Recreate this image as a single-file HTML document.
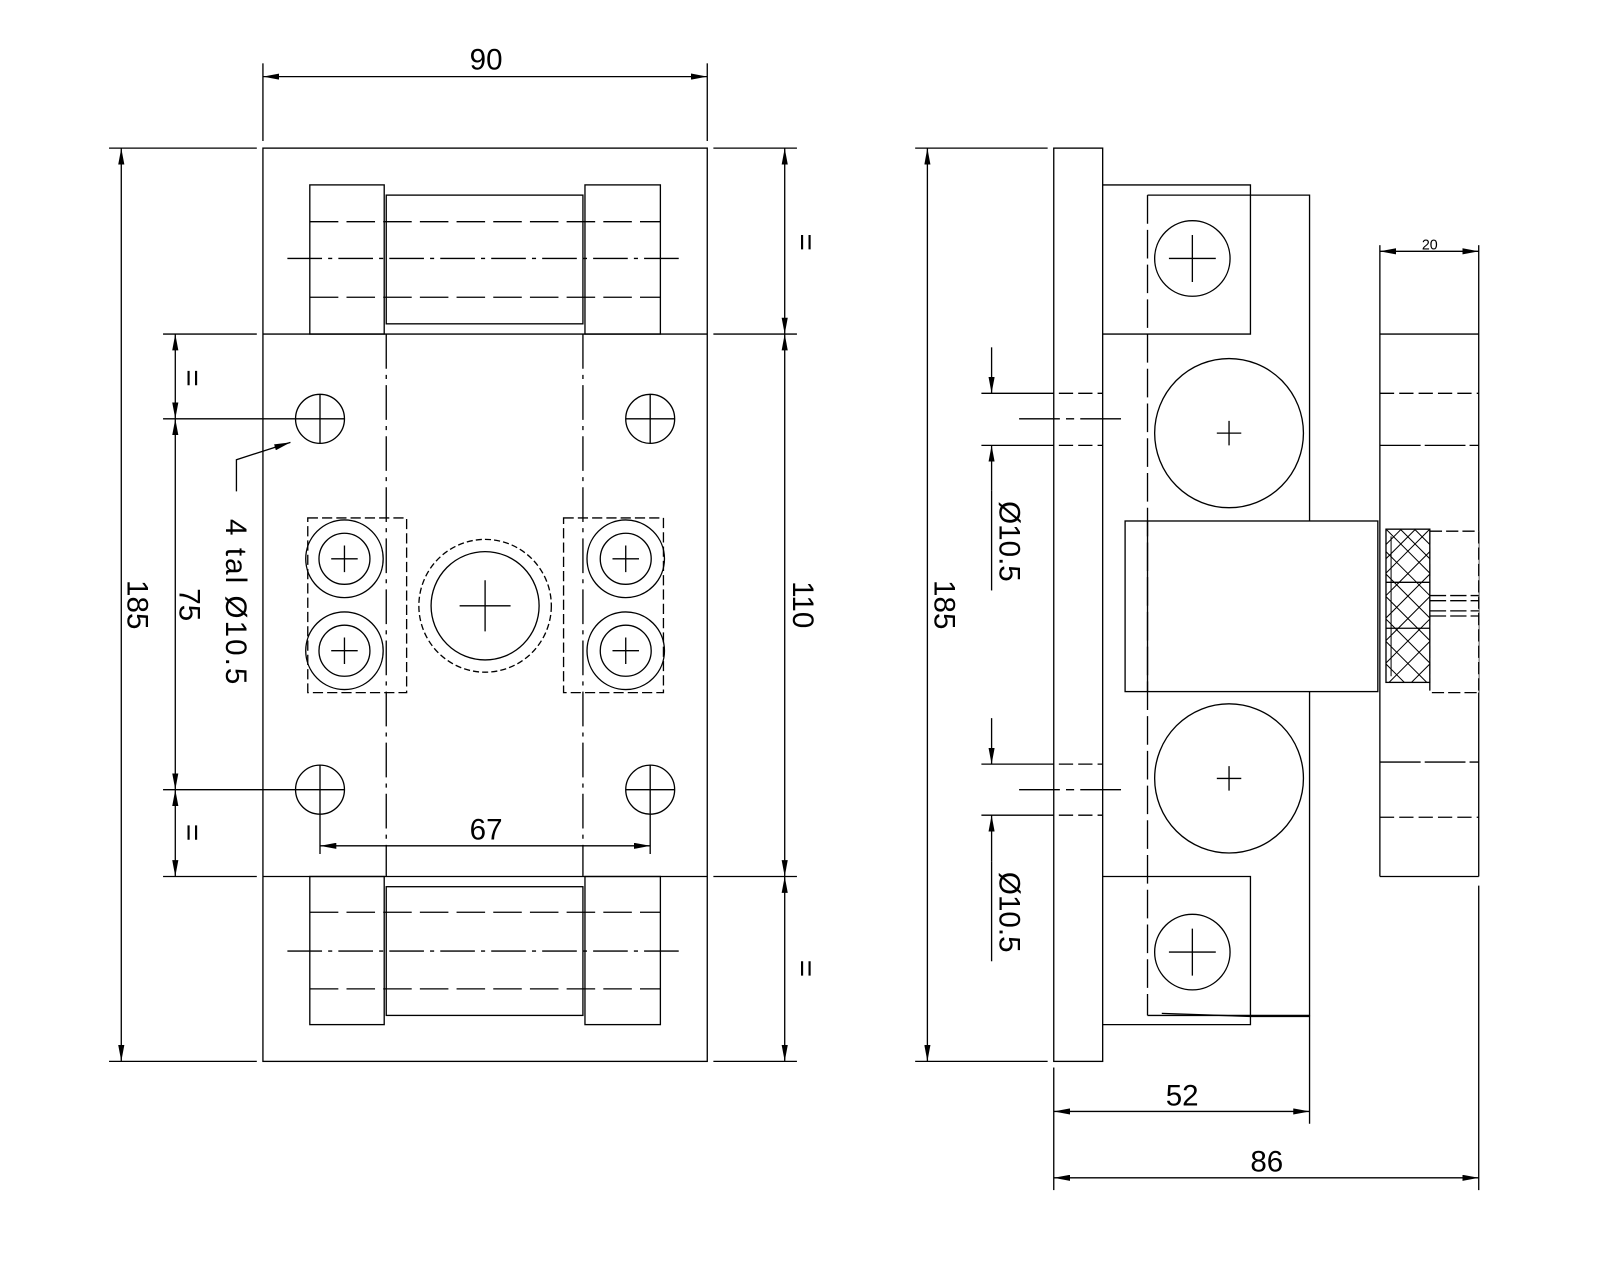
<!DOCTYPE html>
<html><head><meta charset="utf-8"><style>
html,body{margin:0;padding:0;background:#fff;}
svg{display:block;}
text{font-family:"Liberation Sans",sans-serif;font-size:29px;fill:#000;font-weight:normal;}
</style></head><body>
<svg width="1600" height="1280" viewBox="0 0 1570 1253" preserveAspectRatio="none" xmlns="http://www.w3.org/2000/svg">
<defs>
<marker id="a" viewBox="0 0 16 6" refX="16" refY="3" markerWidth="16" markerHeight="6" markerUnits="userSpaceOnUse" orient="auto-start-reverse">
<path d="M0,0 L16,3 L0,6 z" fill="#000"/></marker>
</defs>
<g fill="none" stroke="#000" stroke-width="1.3">
<rect x="258" y="145" width="436" height="894"/>
<line x1="258" y1="327" x2="694" y2="327"/>
<line x1="258" y1="858" x2="694" y2="858"/>
<rect x="304" y="181" width="73" height="146"/>
<rect x="574" y="181" width="74" height="146"/>
<rect x="379" y="191" width="193" height="126"/>
<line x1="304" y1="217" x2="648" y2="217" stroke-dasharray="28,8"/>
<line x1="304" y1="291" x2="648" y2="291" stroke-dasharray="28,8"/>
<line x1="282" y1="253" x2="670" y2="253" stroke-dasharray="34,6,4,6"/>
<rect x="304" y="858" width="73" height="145"/>
<rect x="574" y="858" width="74" height="145"/>
<rect x="379" y="868" width="193" height="126"/>
<line x1="304" y1="893" x2="648" y2="893" stroke-dasharray="28,8"/>
<line x1="304" y1="968" x2="648" y2="968" stroke-dasharray="28,8"/>
<line x1="282" y1="931" x2="670" y2="931" stroke-dasharray="34,6,4,6"/>
<line x1="379" y1="327" x2="379" y2="858" stroke-dasharray="34,6,4,6"/>
<line x1="572" y1="327" x2="572" y2="858" stroke-dasharray="34,6,4,6"/>
<circle cx="314" cy="410" r="24"/><path d="M314 386V434M290 410H338"/>
<circle cx="638" cy="410" r="24"/><path d="M638 386V434M614 410H662"/>
<circle cx="314" cy="773" r="24"/><path d="M314 749V797M290 773H338"/>
<circle cx="638" cy="773" r="24"/><path d="M638 749V797M614 773H662"/>
<rect x="302" y="507" width="97" height="171" stroke-dasharray="10,4"/>
<rect x="553" y="507" width="98" height="171" stroke-dasharray="10,4"/>
<circle cx="338" cy="547" r="38"/><circle cx="338" cy="547" r="25"/><path d="M338 534V560M325 547H351"/>
<circle cx="338" cy="637" r="38"/><circle cx="338" cy="637" r="25"/><path d="M338 624V650M325 637H351"/>
<circle cx="614" cy="547" r="38"/><circle cx="614" cy="547" r="25"/><path d="M614 534V560M601 547H627"/>
<circle cx="614" cy="637" r="38"/><circle cx="614" cy="637" r="25"/><path d="M614 624V650M601 637H627"/>
<circle cx="476" cy="593" r="65" stroke-dasharray="6,3"/>
<circle cx="476" cy="593" r="53"/>
<path d="M476 568V618M451 593H501"/>
<line x1="258" y1="62" x2="258" y2="138"/><line x1="694" y1="62" x2="694" y2="138"/>
<line x1="258" y1="75" x2="694" y2="75" marker-start="url(#a)" marker-end="url(#a)"/>
<line x1="107" y1="145" x2="252" y2="145"/><line x1="107" y1="1039" x2="252" y2="1039"/>
<line x1="119" y1="145" x2="119" y2="1039" marker-start="url(#a)" marker-end="url(#a)"/>
<line x1="160" y1="327" x2="252" y2="327"/><line x1="160" y1="858" x2="252" y2="858"/>
<line x1="160" y1="410" x2="290" y2="410"/><line x1="160" y1="773" x2="290" y2="773"/>
<line x1="172" y1="327" x2="172" y2="410" marker-start="url(#a)" marker-end="url(#a)"/>
<line x1="172" y1="410" x2="172" y2="773" marker-start="url(#a)" marker-end="url(#a)"/>
<line x1="172" y1="773" x2="172" y2="858" marker-start="url(#a)" marker-end="url(#a)"/>
<polyline points="232,481 232,450 285,433" marker-end="url(#a)"/>
<line x1="700" y1="145" x2="782" y2="145"/><line x1="700" y1="327" x2="782" y2="327"/>
<line x1="700" y1="858" x2="782" y2="858"/><line x1="700" y1="1039" x2="782" y2="1039"/>
<line x1="770" y1="145" x2="770" y2="327" marker-start="url(#a)" marker-end="url(#a)"/>
<line x1="770" y1="327" x2="770" y2="858" marker-start="url(#a)" marker-end="url(#a)"/>
<line x1="770" y1="858" x2="770" y2="1039" marker-start="url(#a)" marker-end="url(#a)"/>
<line x1="314" y1="797" x2="314" y2="836"/><line x1="638" y1="797" x2="638" y2="836"/>
<line x1="314" y1="828" x2="638" y2="828" marker-start="url(#a)" marker-end="url(#a)"/>

<rect x="1034" y="145" width="48" height="894"/>
<polyline points="1082,181 1227,181 1227,327 1082,327"/>
<polyline points="1082,858 1227,858 1227,1003 1082,1003"/>
<line x1="1126" y1="191" x2="1126" y2="994" stroke-dasharray="28,6"/>
<polyline points="1126,191 1285,191 1285,510"/>
<polyline points="1285,677 1285,994 1126,994"/>
<circle cx="1206" cy="424" r="73"/><path d="M1206 412V436M1194 424H1218"/>
<circle cx="1206" cy="762" r="73"/><path d="M1206 750V774M1194 762H1218"/>
<circle cx="1170" cy="253" r="37"/><path d="M1170 230V276M1147 253H1193"/>
<circle cx="1170" cy="932" r="37"/><path d="M1170 909V955M1147 932H1193"/>
<rect x="1104" y="510" width="248" height="167"/>
<line x1="1126" y1="510" x2="1126" y2="677"/>
<line x1="1354" y1="327" x2="1451" y2="327"/><line x1="1354" y1="858" x2="1451" y2="858"/>
<line x1="1354" y1="327" x2="1354" y2="858"/>
<line x1="1451" y1="327" x2="1451" y2="858"/>
<line x1="1354" y1="385" x2="1451" y2="385" stroke-dasharray="14,5"/>
<line x1="1354" y1="436" x2="1451" y2="436" stroke-dasharray="40,4"/>
<line x1="1354" y1="746" x2="1451" y2="746" stroke-dasharray="40,4"/>
<line x1="1354" y1="800" x2="1451" y2="800" stroke-dasharray="14,5"/>
<rect x="1403" y="520" width="48" height="158" stroke-dasharray="12,4" fill="#fff"/>
<rect x="1360" y="518" width="43" height="150" fill="#fff"/>
<path d="M1360 518L1403 561M1360 540L1403 583M1360 562L1403 605M1360 584L1403 627M1360 606L1403 649M1360 628L1400 668M1360 650L1378 668M1374 518L1403 547M1388 518L1403 533
M1403 518L1360 561M1403 540L1360 583M1403 562L1360 605M1403 584L1360 627M1403 606L1360 649M1403 628L1363 668M1403 650L1385 668M1389 518L1360 547M1375 518L1360 533" stroke-width="1"/>
<line x1="1360" y1="570" x2="1403" y2="570"/><line x1="1360" y1="615" x2="1403" y2="615"/>
<line x1="1365" y1="525" x2="1365" y2="662" stroke-width="1"/>
<path d="M1403 583H1451M1403 588H1451M1403 598H1451M1403 603H1451" stroke-dasharray="16,4"/>
<line x1="1020" y1="385" x2="1082" y2="385" stroke-dasharray="14,5"/>
<line x1="1020" y1="436" x2="1082" y2="436" stroke-dasharray="14,5"/>
<line x1="1000" y1="410" x2="1106" y2="410" stroke-dasharray="40,6,8,6"/>
<line x1="963" y1="385" x2="1020" y2="385"/><line x1="963" y1="436" x2="1020" y2="436"/>
<line x1="973" y1="340" x2="973" y2="385" marker-end="url(#a)"/>
<line x1="973" y1="480" x2="973" y2="436" marker-end="url(#a)"/>
<line x1="973" y1="480" x2="973" y2="578"/>
<line x1="1020" y1="748" x2="1082" y2="748" stroke-dasharray="14,5"/>
<line x1="1020" y1="798" x2="1082" y2="798" stroke-dasharray="14,5"/>
<line x1="1000" y1="773" x2="1106" y2="773" stroke-dasharray="40,6,8,6"/>
<line x1="963" y1="748" x2="1020" y2="748"/><line x1="963" y1="798" x2="1020" y2="798"/>
<line x1="973" y1="703" x2="973" y2="748" marker-end="url(#a)"/>
<line x1="973" y1="843" x2="973" y2="798" marker-end="url(#a)"/>
<line x1="973" y1="843" x2="973" y2="941"/>
<line x1="898" y1="145" x2="1028" y2="145"/><line x1="898" y1="1039" x2="1028" y2="1039"/>
<line x1="910" y1="145" x2="910" y2="1039" marker-start="url(#a)" marker-end="url(#a)"/>
<polyline points="1140,992 1227,995 1285,995 1285,1100"/>
<line x1="1034" y1="1045" x2="1034" y2="1165"/>
<line x1="1034" y1="1088" x2="1285" y2="1088" marker-start="url(#a)" marker-end="url(#a)"/>
<line x1="1451" y1="867" x2="1451" y2="1165"/>
<line x1="1034" y1="1153" x2="1451" y2="1153" marker-start="url(#a)" marker-end="url(#a)"/>
<line x1="1354" y1="240" x2="1354" y2="327"/><line x1="1451" y1="240" x2="1451" y2="327"/>
<line x1="1354" y1="246" x2="1451" y2="246" marker-start="url(#a)" marker-end="url(#a)"/>
</g>
<g>
<text x="477" y="68" text-anchor="middle">90</text>
<text x="477" y="822" text-anchor="middle">67</text>
<text x="1160" y="1082" text-anchor="middle">52</text>
<text x="1243" y="1147" text-anchor="middle">86</text>
<text x="1403" y="244" text-anchor="middle" style="font-size:14px">20</text>
<text transform="translate(125,592) rotate(90)" text-anchor="middle">185</text>
<text transform="translate(176,592) rotate(90)" text-anchor="middle">75</text>
<text transform="translate(179,370) rotate(90)" text-anchor="middle">=</text>
<text transform="translate(179,815) rotate(90)" text-anchor="middle">=</text>
<text transform="translate(222,590) rotate(90)" text-anchor="middle" style="letter-spacing:2px">4  tal  Ø10.5</text>
<text transform="translate(778,592) rotate(90)" text-anchor="middle">110</text>
<text transform="translate(781,237) rotate(90)" text-anchor="middle">=</text>
<text transform="translate(781,948) rotate(90)" text-anchor="middle">=</text>
<text transform="translate(917,592) rotate(90)" text-anchor="middle">185</text>
<text transform="translate(981,530) rotate(90)" text-anchor="middle">Ø10.5</text>
<text transform="translate(981,893) rotate(90)" text-anchor="middle">Ø10.5</text>
</g>
</svg>
</body></html>
